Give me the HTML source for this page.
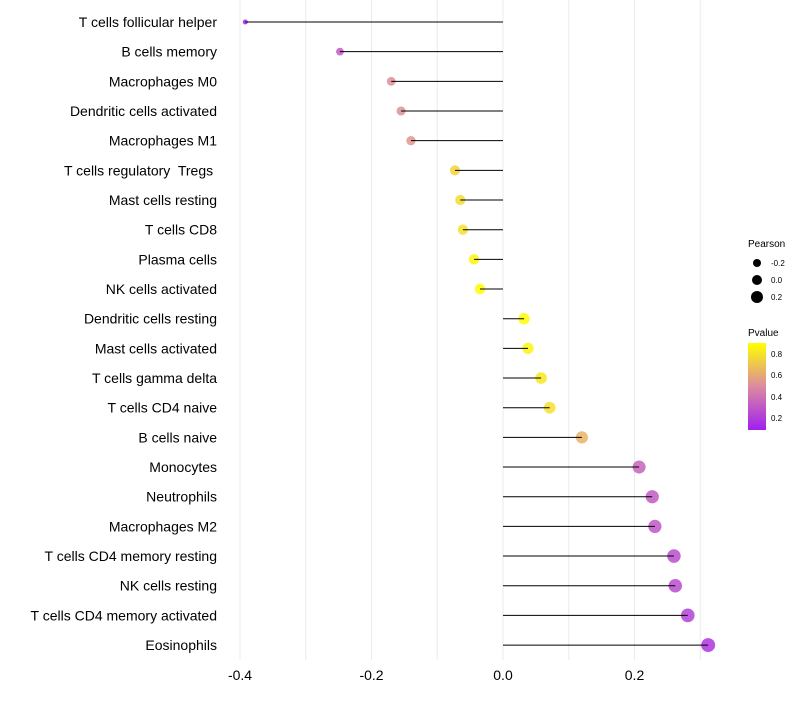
<!DOCTYPE html>
<html><head><meta charset="utf-8"><style>
body{margin:0;background:#fff;font-family:"Liberation Sans",sans-serif}
text{white-space:pre}
</style></head><body>
<svg id="chart" width="800" height="700" xmlns="http://www.w3.org/2000/svg" font-family="Liberation Sans, sans-serif">
<defs><linearGradient id="pg" x1="0" y1="1" x2="0" y2="0">
<stop offset="0" stop-color="#a020f0"/><stop offset="0.5" stop-color="#dc8aa0"/><stop offset="1" stop-color="#ffff00"/></linearGradient></defs>
<g id="grid"></g><g id="points"></g><g id="marks"></g><g id="ylabels"></g><g id="xlabels"></g>
<g>
<text x="748" y="247" font-size="10">Pearson</text>
<circle cx="757" cy="263" r="4" fill="#000"/>
<text x="771" y="266" font-size="8">-0.2</text>
<circle cx="757" cy="280" r="5" fill="#000"/>
<text x="771" y="283" font-size="8">0.0</text>
<circle cx="757" cy="297" r="6" fill="#000"/>
<text x="771" y="300" font-size="8">0.2</text>
<text x="748" y="336" font-size="10">Pvalue</text>
<rect x="748" y="343" width="18" height="87" fill="url(#pg)"/>
<text x="771" y="357" font-size="8">0.8</text>
<text x="771" y="378" font-size="8">0.6</text>
<text x="771" y="400" font-size="8">0.4</text>
<text x="771" y="421" font-size="8">0.2</text>
</g>
</svg>
<script>
const cells=["T cells follicular helper","B cells memory","Macrophages M0","Dendritic cells activated","Macrophages M1","T cells regulatory  Tregs ","Mast cells resting","T cells CD8","Plasma cells","NK cells activated","Dendritic cells resting","Mast cells activated","T cells gamma delta","T cells CD4 naive","B cells naive","Monocytes","Neutrophils","Macrophages M2","T cells CD4 memory resting","NK cells resting","T cells CD4 memory activated","Eosinophils"];
const pearson=[-0.392,-0.248,-0.170,-0.155,-0.140,-0.073,-0.065,-0.061,-0.044,-0.035,0.032,0.038,0.058,0.071,0.120,0.207,0.227,0.231,0.260,0.262,0.281,0.312];
const pvalue=[0.10,0.32,0.52,0.52,0.55,0.76,0.78,0.80,0.87,0.90,0.90,0.88,0.83,0.80,0.65,0.35,0.32,0.30,0.27,0.26,0.22,0.17];
const xTicks=[-0.4,-0.2,0.0,0.2];
const xTickLabels=["-0.4","-0.2","0.0","0.2"];
const NS="http://www.w3.org/2000/svg";
const xs=v=>503+v*657.5;
const ys=i=>22+i*29.67;
function lerp(a,b,t){return a.map((c,k)=>Math.round(c+(b[k]-c)*t));}
function col(p){const t=Math.max(0,Math.min(1,(p-0.09)/0.82));const A=[160,32,240],M=[220,138,160],B=[255,255,0];
const c=t<0.5?lerp(A,M,t*2):lerp(M,B,(t-0.5)*2);return `rgb(${c[0]},${c[1]},${c[2]})`;}
function mk(tag,at,parent){const e=document.createElementNS(NS,tag);for(const k in at)e.setAttribute(k,at[k]);document.getElementById(parent).appendChild(e);return e;}
for(let v=-0.4;v<=0.31;v+=0.1){const l=mk('line',{x1:xs(v),x2:xs(v),y1:0,y2:660,stroke:'#ebebeb','stroke-width':1},'grid');

}
xTicks.forEach((v,i)=>{const t=mk('text',{x:xs(v),y:680,'font-size':14,'text-anchor':'middle',fill:'#000'},'xlabels');t.textContent=xTickLabels[i];

});
cells.forEach((c,i)=>{const y=ys(i);
const t=mk('text',{x:217,y:y+5,'font-size':14,'text-anchor':'end',fill:'#000'},'ylabels');t.textContent=c;


const s=mk('line',{x1:xs(0),x2:xs(pearson[i]),y1:y,y2:y,stroke:'#000','stroke-width':1},'marks');


const r=Math.sqrt(Math.max(2.5,30+60*pearson[i]));
const d=mk('circle',{cx:xs(pearson[i]),cy:y,r:r,fill:col(pvalue[i]),'fill-opacity':0.85},'points');

});
</script>
</body></html>
